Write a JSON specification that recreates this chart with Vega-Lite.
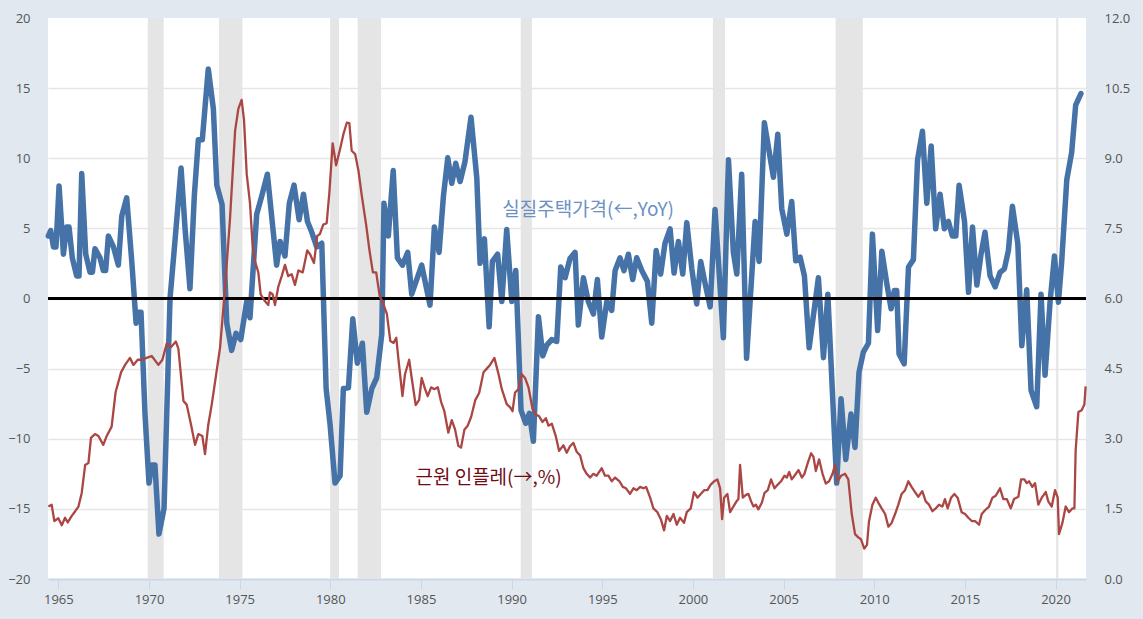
{
  "$schema": "https://vega.github.io/schema/vega-lite/v6.json",
  "width": 1038,
  "height": 561,
  "autosize": {"type": "none"},
  "padding": {"left": 48, "top": 18, "right": 57, "bottom": 40},
  "background": "#e1e8f0",
  "view": {"fill": "#ffffff", "stroke": null},
  "config": {
    "font": "Open Sans",
    "axis": {"labelFont": "Open Sans", "labelFontSize": 13, "labelColor": "#555555"}
  },
  "datasets": {
    "rec": [
      {"s": 1969.93, "e": 1970.81}, {"s": 1973.86, "e": 1975.15}, {"s": 1979.99, "e": 1980.48},
      {"s": 1981.51, "e": 1982.8}, {"s": 1990.5, "e": 1991.12}, {"s": 2001.1, "e": 2001.77},
      {"s": 2007.87, "e": 2009.37}, {"s": 2020.03, "e": 2020.15}
    ],
    "labL": [{"t": 1994.22, "v": 6.34, "label": "실질주택가격(←,YoY)"}],
    "labR": [{"t": 1988.73, "v": 2.17, "label": "근원 인플레(→,%)"}],
    "house": [
      {"t":1964.45,"v":4.46},{"t":1964.58,"v":4.84},{"t":1964.73,"v":3.68},{"t":1964.87,"v":3.68},{"t":1965.04,"v":8.03},
      {"t":1965.28,"v":3.16},{"t":1965.46,"v":5.10},{"t":1965.59,"v":5.10},{"t":1965.77,"v":2.90},{"t":1966.01,"v":1.61},
      {"t":1966.14,"v":1.61},{"t":1966.29,"v":8.91},{"t":1966.51,"v":3.16},{"t":1966.75,"v":1.87},{"t":1966.88,"v":1.87},
      {"t":1967.02,"v":3.55},{"t":1967.30,"v":2.90},{"t":1967.48,"v":1.99},{"t":1967.61,"v":1.99},{"t":1967.76,"v":4.46},
      {"t":1968.04,"v":3.68},{"t":1968.31,"v":2.38},{"t":1968.50,"v":5.88},{"t":1968.77,"v":7.18},{"t":1969.05,"v":2.64},
      {"t":1969.29,"v":-1.76},{"t":1969.38,"v":-0.98},{"t":1969.56,"v":-0.98},{"t":1969.78,"v":-8.24},{"t":1970.00,"v":-13.16},
      {"t":1970.15,"v":-11.87},{"t":1970.33,"v":-11.87},{"t":1970.55,"v":-16.79},{"t":1970.83,"v":-14.97},{"t":1971.16,"v":0.0},
      {"t":1971.44,"v":4.20},{"t":1971.77,"v":9.30},{"t":1971.99,"v":4.97},{"t":1972.26,"v":0.70},{"t":1972.50,"v":7.31},
      {"t":1972.72,"v":11.32},{"t":1972.94,"v":11.32},{"t":1973.27,"v":16.37},{"t":1973.55,"v":13.52},{"t":1973.74,"v":8.08},
      {"t":1974.03,"v":6.70},{"t":1974.29,"v":-1.76},{"t":1974.56,"v":-3.70},{"t":1974.80,"v":-2.49},{"t":1975.06,"v":-2.93},
      {"t":1975.39,"v":-0.20},{"t":1975.57,"v":-1.37},{"t":1975.94,"v":6.01},{"t":1976.22,"v":7.31},{"t":1976.53,"v":8.86},
      {"t":1977.04,"v":2.38},{"t":1977.23,"v":4.07},{"t":1977.50,"v":3.03},{"t":1977.74,"v":6.79},{"t":1978.00,"v":8.08},
      {"t":1978.28,"v":5.62},{"t":1978.52,"v":7.44},{"t":1978.74,"v":5.49},{"t":1978.98,"v":4.72},{"t":1979.25,"v":3.68},
      {"t":1979.53,"v":3.94},{"t":1979.77,"v":-6.42},{"t":1979.99,"v":-9.02},{"t":1980.26,"v":-13.16},{"t":1980.54,"v":-12.64},
      {"t":1980.72,"v":-6.42},{"t":1981.00,"v":-6.37},{"t":1981.24,"v":-1.45},{"t":1981.49,"v":-4.61},{"t":1981.77,"v":-3.19},
      {"t":1982.01,"v":-8.11},{"t":1982.29,"v":-6.42},{"t":1982.56,"v":-5.65},{"t":1982.84,"v":-2.54},{"t":1982.96,"v":6.79},
      {"t":1983.20,"v":4.46},{"t":1983.47,"v":9.12},{"t":1983.70,"v":2.90},{"t":1983.98,"v":2.38},{"t":1984.27,"v":3.29},
      {"t":1984.49,"v":0.31},{"t":1985.04,"v":2.38},{"t":1985.50,"v":-0.47},{"t":1985.74,"v":5.10},{"t":1986.00,"v":3.29},
      {"t":1986.24,"v":7.31},{"t":1986.48,"v":10.03},{"t":1986.70,"v":8.21},{"t":1986.92,"v":9.64},{"t":1987.16,"v":8.34},
      {"t":1987.43,"v":9.77},{"t":1987.76,"v":12.93},{"t":1988.08,"v":8.60},{"t":1988.26,"v":2.51},{"t":1988.50,"v":4.25},
      {"t":1988.76,"v":-2.02},{"t":1988.94,"v":2.64},{"t":1989.23,"v":3.16},{"t":1989.46,"v":-0.21},{"t":1989.73,"v":4.92},
      {"t":1990.01,"v":-0.21},{"t":1990.23,"v":2.00},{"t":1990.52,"v":-7.98},{"t":1990.78,"v":-8.89},{"t":1990.98,"v":-8.19},
      {"t":1991.20,"v":-10.18},{"t":1991.48,"v":-1.30},{"t":1991.72,"v":-4.09},{"t":1991.94,"v":-3.32},{"t":1992.21,"v":-2.93},
      {"t":1992.49,"v":-3.06},{"t":1992.71,"v":2.25},{"t":1992.95,"v":1.48},{"t":1993.22,"v":2.85},{"t":1993.50,"v":3.29},
      {"t":1993.68,"v":-1.89},{"t":1993.96,"v":1.48},{"t":1994.23,"v":-0.21},{"t":1994.51,"v":-1.11},{"t":1994.73,"v":1.35},
      {"t":1994.97,"v":-2.75},{"t":1995.25,"v":-0.21},{"t":1995.52,"v":-0.85},{"t":1995.71,"v":1.99},{"t":1995.98,"v":2.90},
      {"t":1996.20,"v":1.99},{"t":1996.44,"v":3.16},{"t":1996.68,"v":1.35},{"t":1996.90,"v":2.90},{"t":1997.18,"v":1.99},
      {"t":1997.49,"v":1.22},{"t":1997.73,"v":-1.76},{"t":1997.97,"v":3.42},{"t":1998.22,"v":1.74},{"t":1998.46,"v":3.94},
      {"t":1998.74,"v":4.97},{"t":1998.96,"v":1.81},{"t":1999.20,"v":4.07},{"t":1999.44,"v":1.74},{"t":1999.66,"v":5.41},
      {"t":1999.94,"v":2.12},{"t":2000.21,"v":-0.39},{"t":2000.43,"v":2.64},{"t":2000.67,"v":1.09},{"t":2000.95,"v":-0.60},
      {"t":2001.22,"v":6.35},{"t":2001.68,"v":-2.80},{"t":2001.96,"v":9.90},{"t":2002.23,"v":3.29},{"t":2002.42,"v":1.74},
      {"t":2002.69,"v":8.86},{"t":2002.96,"v":-4.26},{"t":2003.43,"v":5.49},{"t":2003.65,"v":2.64},{"t":2003.94,"v":12.54},
      {"t":2004.44,"v":8.65},{"t":2004.68,"v":11.71},{"t":2004.90,"v":6.40},{"t":2005.18,"v":4.59},{"t":2005.45,"v":6.92},
      {"t":2005.67,"v":2.69},{"t":2005.91,"v":2.95},{"t":2006.15,"v":1.61},{"t":2006.41,"v":-3.52},{"t":2006.92,"v":1.48},
      {"t":2007.20,"v":-4.22},{"t":2007.44,"v":0.31},{"t":2007.93,"v":-13.16},{"t":2008.17,"v":-7.15},{"t":2008.43,"v":-11.48},
      {"t":2008.72,"v":-8.24},{"t":2008.94,"v":-10.62},{"t":2009.16,"v":-5.26},{"t":2009.40,"v":-3.83},{"t":2009.68,"v":-3.19},
      {"t":2009.90,"v":4.59},{"t":2010.19,"v":-2.28},{"t":2010.42,"v":3.37},{"t":2010.69,"v":1.09},{"t":2010.93,"v":-0.73},
      {"t":2011.11,"v":0.57},{"t":2011.24,"v":0.57},{"t":2011.37,"v":-3.96},{"t":2011.65,"v":-4.66},{"t":2011.89,"v":2.25},
      {"t":2012.16,"v":2.77},{"t":2012.39,"v":9.90},{"t":2012.66,"v":11.92},{"t":2012.90,"v":6.79},{"t":2013.14,"v":10.88},
      {"t":2013.39,"v":4.97},{"t":2013.63,"v":7.44},{"t":2013.87,"v":4.97},{"t":2014.09,"v":5.49},{"t":2014.31,"v":4.46},
      {"t":2014.50,"v":4.46},{"t":2014.68,"v":8.08},{"t":2014.98,"v":5.49},{"t":2015.20,"v":0.44},{"t":2015.42,"v":5.10},
      {"t":2015.66,"v":0.96},{"t":2015.89,"v":3.16},{"t":2016.11,"v":4.72},{"t":2016.39,"v":1.61},{"t":2016.67,"v":0.83},
      {"t":2016.94,"v":1.87},{"t":2017.18,"v":2.12},{"t":2017.40,"v":3.42},{"t":2017.62,"v":6.58},{"t":2017.92,"v":3.89},
      {"t":2018.14,"v":-3.37},{"t":2018.41,"v":0.62},{"t":2018.65,"v":-6.55},{"t":2018.96,"v":-7.72},{"t":2019.20,"v":0.31},
      {"t":2019.42,"v":-5.47},{"t":2019.70,"v":-0.21},{"t":2019.94,"v":3.03},{"t":2020.16,"v":-0.26},{"t":2020.34,"v":2.64},
      {"t":2020.62,"v":8.47},{"t":2020.89,"v":10.41},{"t":2021.11,"v":13.78},{"t":2021.40,"v":14.61}
    ],
    "core": [
      {"t":1964.45,"v":1.55},{"t":1964.63,"v":1.59},{"t":1964.78,"v":1.24},{"t":1965.00,"v":1.30},{"t":1965.19,"v":1.15},
      {"t":1965.37,"v":1.31},{"t":1965.52,"v":1.21},{"t":1965.74,"v":1.35},{"t":1965.93,"v":1.45},{"t":1966.11,"v":1.55},
      {"t":1966.29,"v":1.84},{"t":1966.48,"v":2.44},{"t":1966.66,"v":2.48},{"t":1966.80,"v":3.02},{"t":1967.02,"v":3.10},
      {"t":1967.21,"v":3.06},{"t":1967.48,"v":2.87},{"t":1967.67,"v":3.06},{"t":1967.94,"v":3.26},{"t":1968.16,"v":4.00},
      {"t":1968.46,"v":4.42},{"t":1968.68,"v":4.58},{"t":1968.95,"v":4.73},{"t":1969.14,"v":4.58},{"t":1969.38,"v":4.69},
      {"t":1969.60,"v":4.69},{"t":1969.87,"v":4.73},{"t":1970.15,"v":4.77},{"t":1970.52,"v":4.58},{"t":1970.74,"v":4.69},
      {"t":1970.98,"v":5.04},{"t":1971.22,"v":4.96},{"t":1971.48,"v":5.08},{"t":1971.62,"v":4.93},{"t":1971.90,"v":3.81},
      {"t":1972.08,"v":3.73},{"t":1972.32,"v":3.30},{"t":1972.54,"v":2.87},{"t":1972.72,"v":3.10},{"t":1972.94,"v":3.06},
      {"t":1973.09,"v":2.67},{"t":1973.27,"v":3.30},{"t":1973.46,"v":3.73},{"t":1973.68,"v":4.31},{"t":1973.92,"v":4.95},
      {"t":1974.20,"v":6.25},{"t":1974.47,"v":7.72},{"t":1974.75,"v":9.59},{"t":1974.93,"v":10.06},{"t":1975.11,"v":10.25},
      {"t":1975.24,"v":9.82},{"t":1975.39,"v":8.66},{"t":1975.57,"v":8.04},{"t":1975.72,"v":7.10},{"t":1975.85,"v":6.79},
      {"t":1976.03,"v":6.56},{"t":1976.16,"v":6.09},{"t":1976.40,"v":5.94},{"t":1976.58,"v":5.86},{"t":1976.67,"v":6.13},
      {"t":1976.82,"v":6.09},{"t":1976.95,"v":5.86},{"t":1977.13,"v":6.25},{"t":1977.32,"v":6.48},{"t":1977.50,"v":6.72},
      {"t":1977.68,"v":6.48},{"t":1977.87,"v":6.52},{"t":1978.05,"v":6.29},{"t":1978.24,"v":6.60},{"t":1978.48,"v":6.56},
      {"t":1978.73,"v":7.03},{"t":1978.88,"v":6.95},{"t":1979.10,"v":6.76},{"t":1979.28,"v":7.34},{"t":1979.43,"v":7.38},
      {"t":1979.61,"v":7.58},{"t":1979.80,"v":7.61},{"t":1979.95,"v":8.27},{"t":1980.13,"v":9.32},{"t":1980.32,"v":8.85},
      {"t":1980.54,"v":9.20},{"t":1980.72,"v":9.51},{"t":1980.91,"v":9.76},{"t":1981.05,"v":9.75},{"t":1981.18,"v":9.16},
      {"t":1981.37,"v":9.09},{"t":1981.55,"v":8.74},{"t":1981.74,"v":8.19},{"t":1981.98,"v":7.57},{"t":1982.16,"v":7.03},
      {"t":1982.35,"v":6.56},{"t":1982.53,"v":6.56},{"t":1982.72,"v":6.06},{"t":1982.90,"v":5.91},{"t":1983.12,"v":5.67},
      {"t":1983.31,"v":5.09},{"t":1983.49,"v":5.05},{"t":1983.64,"v":5.16},{"t":1983.75,"v":4.73},{"t":1983.98,"v":3.91},
      {"t":1984.12,"v":4.38},{"t":1984.35,"v":4.69},{"t":1984.49,"v":4.30},{"t":1984.71,"v":3.72},{"t":1984.90,"v":3.83},
      {"t":1985.04,"v":4.30},{"t":1985.23,"v":4.06},{"t":1985.37,"v":3.91},{"t":1985.56,"v":4.10},{"t":1985.74,"v":4.06},
      {"t":1985.93,"v":4.10},{"t":1986.11,"v":3.79},{"t":1986.29,"v":3.59},{"t":1986.51,"v":3.13},{"t":1986.70,"v":3.40},
      {"t":1986.88,"v":3.20},{"t":1987.06,"v":2.85},{"t":1987.21,"v":2.81},{"t":1987.40,"v":3.20},{"t":1987.58,"v":3.28},
      {"t":1987.77,"v":3.47},{"t":1987.99,"v":3.82},{"t":1988.21,"v":3.98},{"t":1988.45,"v":4.42},{"t":1988.63,"v":4.50},
      {"t":1988.81,"v":4.58},{"t":1989.05,"v":4.73},{"t":1989.28,"v":4.38},{"t":1989.46,"v":4.06},{"t":1989.73,"v":3.74},
      {"t":1989.92,"v":3.67},{"t":1990.05,"v":3.59},{"t":1990.19,"v":3.99},{"t":1990.38,"v":4.06},{"t":1990.56,"v":4.38},
      {"t":1990.74,"v":4.30},{"t":1990.93,"v":4.10},{"t":1991.15,"v":3.64},{"t":1991.33,"v":3.52},{"t":1991.52,"v":3.48},
      {"t":1991.70,"v":3.36},{"t":1991.89,"v":3.44},{"t":1992.03,"v":3.28},{"t":1992.22,"v":3.32},{"t":1992.44,"v":3.05},
      {"t":1992.62,"v":2.74},{"t":1992.86,"v":2.86},{"t":1993.04,"v":2.70},{"t":1993.22,"v":2.84},{"t":1993.41,"v":2.91},
      {"t":1993.59,"v":2.72},{"t":1993.78,"v":2.64},{"t":1993.96,"v":2.37},{"t":1994.14,"v":2.25},{"t":1994.33,"v":2.17},
      {"t":1994.51,"v":2.25},{"t":1994.69,"v":2.21},{"t":1994.97,"v":2.37},{"t":1995.15,"v":2.21},{"t":1995.34,"v":2.21},
      {"t":1995.52,"v":2.09},{"t":1995.71,"v":2.17},{"t":1995.95,"v":2.09},{"t":1996.13,"v":1.97},{"t":1996.31,"v":1.94},
      {"t":1996.53,"v":1.82},{"t":1996.72,"v":1.94},{"t":1996.90,"v":1.90},{"t":1997.09,"v":1.97},{"t":1997.27,"v":1.94},
      {"t":1997.42,"v":1.97},{"t":1997.64,"v":1.74},{"t":1997.82,"v":1.51},{"t":1998.04,"v":1.43},{"t":1998.23,"v":1.28},
      {"t":1998.41,"v":1.04},{"t":1998.56,"v":1.35},{"t":1998.74,"v":1.24},{"t":1998.93,"v":1.39},{"t":1999.11,"v":1.16},
      {"t":1999.29,"v":1.31},{"t":1999.51,"v":1.20},{"t":1999.66,"v":1.43},{"t":1999.88,"v":1.51},{"t":2000.06,"v":1.86},
      {"t":2000.25,"v":1.74},{"t":2000.43,"v":1.82},{"t":2000.62,"v":1.90},{"t":2000.80,"v":1.90},{"t":2000.98,"v":2.02},
      {"t":2001.17,"v":2.09},{"t":2001.35,"v":2.13},{"t":2001.50,"v":1.94},{"t":2001.61,"v":1.28},{"t":2001.72,"v":1.74},
      {"t":2001.90,"v":1.82},{"t":2002.05,"v":1.43},{"t":2002.23,"v":1.55},{"t":2002.42,"v":1.67},{"t":2002.51,"v":1.71},
      {"t":2002.60,"v":2.44},{"t":2002.75,"v":1.74},{"t":2002.93,"v":1.80},{"t":2003.06,"v":1.82},{"t":2003.21,"v":1.66},
      {"t":2003.34,"v":1.55},{"t":2003.47,"v":1.59},{"t":2003.61,"v":1.49},{"t":2003.80,"v":1.63},{"t":2003.95,"v":1.84},
      {"t":2004.13,"v":1.90},{"t":2004.31,"v":2.13},{"t":2004.50,"v":1.94},{"t":2004.68,"v":2.02},{"t":2004.86,"v":2.09},
      {"t":2005.05,"v":2.21},{"t":2005.18,"v":2.17},{"t":2005.31,"v":2.29},{"t":2005.45,"v":2.13},{"t":2005.64,"v":2.23},
      {"t":2005.82,"v":2.33},{"t":2006.01,"v":2.17},{"t":2006.15,"v":2.25},{"t":2006.34,"v":2.49},{"t":2006.52,"v":2.69},
      {"t":2006.65,"v":2.61},{"t":2006.78,"v":2.31},{"t":2006.96,"v":2.56},{"t":2007.15,"v":2.25},{"t":2007.33,"v":2.04},
      {"t":2007.51,"v":2.09},{"t":2007.70,"v":2.25},{"t":2007.84,"v":2.44},{"t":2007.99,"v":2.09},{"t":2008.17,"v":2.21},
      {"t":2008.39,"v":2.25},{"t":2008.57,"v":2.13},{"t":2008.76,"v":1.39},{"t":2008.94,"v":0.96},{"t":2009.12,"v":0.89},
      {"t":2009.27,"v":0.85},{"t":2009.45,"v":0.65},{"t":2009.60,"v":0.73},{"t":2009.71,"v":1.23},{"t":2009.90,"v":1.59},
      {"t":2010.08,"v":1.74},{"t":2010.23,"v":1.63},{"t":2010.41,"v":1.51},{"t":2010.60,"v":1.39},{"t":2010.78,"v":1.12},
      {"t":2010.96,"v":1.20},{"t":2011.15,"v":1.39},{"t":2011.33,"v":1.59},{"t":2011.51,"v":1.82},{"t":2011.70,"v":1.90},
      {"t":2011.88,"v":2.09},{"t":2012.06,"v":1.97},{"t":2012.25,"v":1.86},{"t":2012.43,"v":1.76},{"t":2012.65,"v":1.88},
      {"t":2012.84,"v":1.66},{"t":2013.02,"v":1.59},{"t":2013.21,"v":1.45},{"t":2013.39,"v":1.51},{"t":2013.57,"v":1.59},
      {"t":2013.76,"v":1.55},{"t":2013.90,"v":1.71},{"t":2014.05,"v":1.51},{"t":2014.24,"v":1.74},{"t":2014.42,"v":1.82},
      {"t":2014.60,"v":1.74},{"t":2014.82,"v":1.43},{"t":2015.01,"v":1.39},{"t":2015.19,"v":1.31},{"t":2015.38,"v":1.24},
      {"t":2015.56,"v":1.24},{"t":2015.78,"v":1.16},{"t":2015.93,"v":1.39},{"t":2016.11,"v":1.47},{"t":2016.33,"v":1.55},
      {"t":2016.52,"v":1.74},{"t":2016.70,"v":1.78},{"t":2016.94,"v":1.94},{"t":2017.12,"v":1.71},{"t":2017.31,"v":1.71},
      {"t":2017.53,"v":1.51},{"t":2017.71,"v":1.71},{"t":2017.95,"v":1.76},{"t":2018.10,"v":2.13},{"t":2018.28,"v":2.13},
      {"t":2018.41,"v":2.05},{"t":2018.54,"v":2.09},{"t":2018.72,"v":1.97},{"t":2018.87,"v":2.05},{"t":2019.05,"v":1.59},
      {"t":2019.24,"v":1.74},{"t":2019.46,"v":1.86},{"t":2019.60,"v":1.66},{"t":2019.79,"v":1.55},{"t":2019.97,"v":1.90},
      {"t":2020.12,"v":1.74},{"t":2020.19,"v":0.96},{"t":2020.38,"v":1.20},{"t":2020.56,"v":1.55},{"t":2020.74,"v":1.43},
      {"t":2020.93,"v":1.51},{"t":2021.04,"v":1.51},{"t":2021.11,"v":2.76},{"t":2021.26,"v":3.57},{"t":2021.44,"v":3.61},
      {"t":2021.59,"v":3.73},{"t":2021.66,"v":4.12}
    ]
  },
  "layer": [
    {
      "layer": [
        {
          "data": {"name": "rec"},
          "mark": {"type": "rect", "color": "#e5e5e5"},
          "encoding": {
            "x": {"field": "s", "type": "quantitative", "title": null,
                  "scale": {"domain": [1964.43, 2021.68], "nice": false, "zero": false}},
            "x2": {"field": "e"}
          }
        },
        {
          "data": {"name": "house"},
          "mark": {"type": "line", "color": "#4572a7", "strokeWidth": 5.5, "strokeJoin": "round", "strokeCap": "round"},
          "encoding": {
            "x": {"field": "t", "type": "quantitative", "title": null,
                  "scale": {"domain": [1964.43, 2021.68], "nice": false, "zero": false},
                  "axis": {"values": [1965,1970,1975,1980,1985,1990,1995,2000,2005,2010,2015,2020], "format": "d",
                           "grid": false, "domain": true, "domainColor": "#ccd6eb", "domainWidth": 2,
                           "ticks": true, "tickColor": "#ccd6eb", "tickSize": 10, "tickWidth": 1, "labelPadding": 4, "labelFlush": false}},
            "y": {"field": "v", "type": "quantitative", "title": null,
                  "scale": {"domain": [-20, 20], "nice": false, "zero": false},
                  "axis": {"orient": "left", "values": [-20,-15,-10,-5,0,5,10,15,20], "format": "d",
                           "grid": true, "gridWidth": 1.5,
                           "gridColor": {"condition": {"test": "abs(datum.value) == 20", "value": "transparent"}, "value": "#e6e6e6"},
                           "domain": false, "ticks": false, "labelPadding": 18, "labelFlush": false}}
          }
        },
        {
          "data": {"name": "rec"},
          "mark": {"type": "rule", "color": "#000000", "strokeWidth": 2},
          "encoding": {"y": {"datum": 0, "type": "quantitative"}}
        },
        {
          "data": {"name": "labL"},
          "mark": {"type": "text", "font": "Noto Sans CJK KR", "fontSize": 19,
                   "color": "#6d90c3", "align": "center", "baseline": "middle"},
          "encoding": {
            "x": {"field": "t", "type": "quantitative", "title": null,
                  "scale": {"domain": [1964.43, 2021.68], "nice": false, "zero": false}},
            "y": {"field": "v", "type": "quantitative", "title": null},
            "text": {"field": "label"}
          }
        }
      ]
    },
    {
      "layer": [
        {
          "data": {"name": "core"},
          "mark": {"type": "line", "color": "#aa4643", "strokeWidth": 2.3, "strokeJoin": "round"},
          "encoding": {
            "x": {"field": "t", "type": "quantitative", "title": null,
                  "scale": {"domain": [1964.43, 2021.68], "nice": false, "zero": false}},
            "y": {"field": "v", "type": "quantitative", "title": null,
                  "scale": {"domain": [0, 12], "nice": false, "zero": false},
                  "axis": {"orient": "right", "values": [0,1.5,3,4.5,6,7.5,9,10.5,12], "format": ".1f",
                           "grid": false, "domain": false, "ticks": false, "labelPadding": 18, "labelFlush": false}}
          }
        },
        {
          "data": {"name": "labR"},
          "mark": {"type": "text", "font": "Noto Sans CJK KR", "fontSize": 19,
                   "color": "#700b16", "align": "center", "baseline": "middle"},
          "encoding": {
            "x": {"field": "t", "type": "quantitative", "title": null,
                  "scale": {"domain": [1964.43, 2021.68], "nice": false, "zero": false}},
            "y": {"field": "v", "type": "quantitative", "title": null},
            "text": {"field": "label"}
          }
        }
      ]
    }
  ],
  "resolve": {"scale": {"y": "independent"}}
}
